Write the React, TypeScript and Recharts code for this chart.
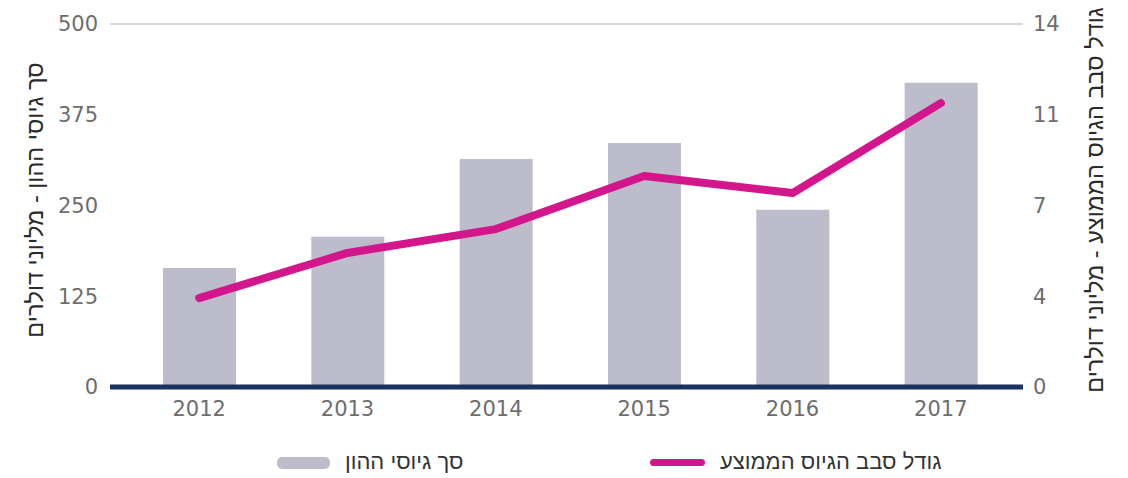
import {
  Bar,
  CartesianGrid,
  ComposedChart,
  Legend,
  Line,
  ReferenceLine,
  XAxis,
  YAxis,
} from 'recharts'

const years = ['2012', '2013', '2014', '2015', '2016', '2017']
const totalRaised = [164, 207, 314, 336, 244, 419]
const avgRound = [3.43, 5.17, 6.09, 8.14, 7.48, 10.95]

const leftTicks = [0, 125, 250, 375, 500]
const rightTicks = [0, 3.5, 7, 10.5, 14]

const barLabel = 'סך גיוסי ההון'
const lineLabel = 'גודל סבב הגיוס הממוצע'
const leftTitle = 'סך גיוסי ההון - מליוני דולרים'
const rightTitle = 'גודל סבב הגיוס הממוצע - מליוני דולרים'

const data = years.map((year, i) => ({ year, total: totalRaised[i], avg: avgRound[i] }))

const font = '"Liberation Sans", Arial, sans-serif'
const tickStyle = { fill: '#6d6d6d', fontSize: 21, fontFamily: '"DejaVu Sans", sans-serif' }

function SideTitle({ viewBox, text, dx }: any) {
  const x = viewBox.x + dx
  const y = 200
  return (
    <text
      x={x}
      y={y}
      transform={`rotate(-90 ${x} ${y})`}
      textAnchor="middle"
      dominantBaseline="central"
      fill="#2b2b2b"
      fontSize={23.5}
      fontFamily={font}
    >
      {text}
    </text>
  )
}

function ChartLegend() {
  return (
    <div style={{ position: 'relative', width: 1128, height: 30, fontFamily: font, fontSize: 22, color: '#333' }}>
      <div style={{ position: 'absolute', left: 277, top: 9, width: 53, height: 12, borderRadius: 5, background: '#bdbccb' }} />
      <div style={{ position: 'absolute', left: 345, top: 1, direction: 'rtl' }}>{barLabel}</div>
      <div style={{ position: 'absolute', left: 650, top: 11, width: 55, height: 7, borderRadius: 4, background: '#d4168c' }} />
      <div style={{ position: 'absolute', left: 720, top: 1, direction: 'rtl' }}>{lineLabel}</div>
    </div>
  )
}

export default function App() {
  return (
    <div style={{ position: 'absolute', left: 0, top: 0, width: 1128, height: 478, background: '#fff' }}>
      <ComposedChart width={1128} height={478} data={data} margin={{ top: 24, right: 0, bottom: 0, left: 0 }}>
        <CartesianGrid vertical={false} stroke="#d9d9d6" strokeWidth={2} />
        <XAxis
          dataKey="year"
          height={61}
          axisLine={false}
          tickLine={false}
          tick={tickStyle}
          tickMargin={8}
          padding={{ left: 15, right: 8 }}
        />
        <YAxis
          yAxisId="left"
          width={110}
          domain={[0, 500]}
          ticks={leftTicks}
          axisLine={false}
          tickLine={false}
          tickMargin={6}
          tick={tickStyle}
          label={<SideTitle text={leftTitle} dx={35} />}
        />
        <YAxis
          yAxisId="right"
          orientation="right"
          width={105}
          domain={[0, 14]}
          ticks={rightTicks}
          tickFormatter={(v: number) => String(Math.round(v))}
          axisLine={false}
          tickLine={false}
          tickMargin={4}
          tick={tickStyle}
          label={<SideTitle text={rightTitle} dx={72} />}
        />
        <Bar yAxisId="left" dataKey="total" fill="#bdbccb" barSize={73} isAnimationActive={false} />
        <Line
          yAxisId="right"
          dataKey="avg"
          stroke="#d4168c"
          strokeWidth={8}
          strokeLinecap="round"
          strokeLinejoin="round"
          dot={false}
          activeDot={false}
          isAnimationActive={false}
        />
        <ReferenceLine yAxisId="left" y={0} stroke="#1b3160" strokeWidth={5} />
        <Legend verticalAlign="bottom" content={() => <ChartLegend />} />
      </ComposedChart>
    </div>
  )
}
